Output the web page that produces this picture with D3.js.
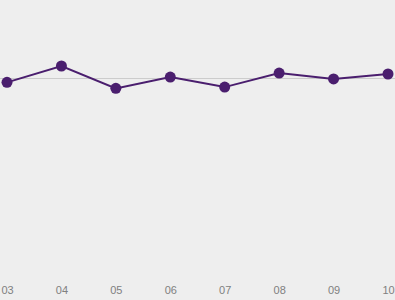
<!DOCTYPE html>
<html><head><meta charset="utf-8">
<script src="https://cdn.jsdelivr.net/npm/d3@7/dist/d3.min.js"></script>
<style>html,body{margin:0;padding:0;background:#eeeeee;}svg{display:block;}</style>
</head><body>
<script>
const categories = ["03","04","05","06","07","08","09","10"];
const values = [97.6, 106.6, 94.3, 100.5, 95.0, 102.7, 99.5, 102.2];
const gridValues = [100];

const W = 395, H = 300;
const svg = d3.select("body").append("svg").attr("width", W).attr("height", H);
svg.append("rect").attr("width", W).attr("height", H).attr("fill", "#eeeeee");

const x = d3.scalePoint().domain(categories).range([7, 388]);
const y = d3.scaleLinear().domain([0, 100]).range([260, 78]);

svg.selectAll("line.grid").data(gridValues).enter().append("line")
  .attr("class","grid")
  .attr("x1", 0).attr("x2", W)
  .attr("y1", d => y(d)+0.5).attr("y2", d => y(d)+0.5)
  .attr("stroke", "#cccccc").attr("stroke-width", 1);

const data = categories.map((c,i)=>({c, v: values[i]}));
svg.append("path").datum(data)
  .attr("fill","none").attr("stroke","#4a1e6e").attr("stroke-width",2)
  .attr("d", d3.line().x(d=>x(d.c)).y(d=>y(d.v)));

svg.selectAll("circle").data(data).enter().append("circle")
  .attr("cx", d=>x(d.c)).attr("cy", d=>y(d.v)).attr("r", 5.5)
  .attr("fill","#4a1e6e");

const axis = d3.axisBottom(x).tickSize(0).tickPadding(0);
const g = svg.append("g").attr("transform","translate(0,286)").call(axis);
g.select(".domain").remove();
g.selectAll("text").attr("fill","#808080").attr("font-family","Liberation Sans, Arial, sans-serif").attr("font-size","11px").attr("dy","0.71em");
</script>
</body></html>
